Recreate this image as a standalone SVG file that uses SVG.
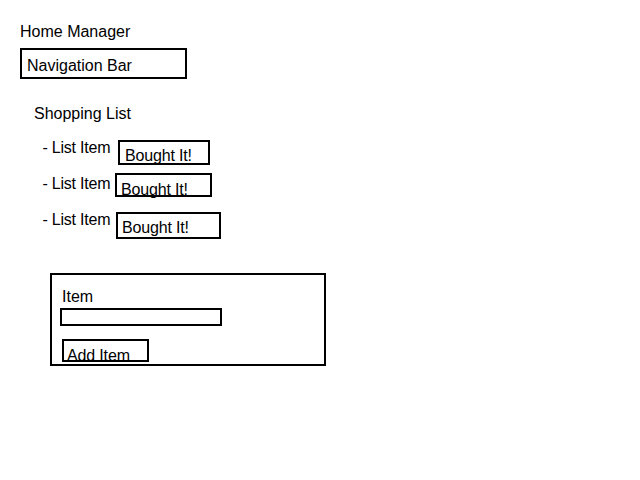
<svg xmlns="http://www.w3.org/2000/svg" width="640" height="480" viewBox="0 0 640 480">
<style>
text{font-family:"Liberation Sans",Arial,sans-serif;font-size:16px;fill:#000}
rect{fill:none;stroke:#000;stroke-width:2}
</style>
<rect x="0" y="0" width="640" height="480" style="fill:#fff;stroke:none"/>
<g id="title"><text x="20" y="37">Home Manager</text></g>
<g id="navbar"><rect x="21" y="49" width="165" height="29"/><text x="27" y="71">Navigation Bar</text></g>
<g id="shopping-list"><text x="34" y="119">Shopping List</text></g>
<g id="item1"><text x="42.5" y="153" textLength="68">- List Item</text><rect x="119" y="141" width="90" height="23"/><text x="125" y="161" textLength="67">Bought It!</text></g>
<g id="item2"><text x="42.5" y="189" textLength="68">- List Item</text><rect x="116" y="174" width="95" height="22"/><text x="121" y="195" textLength="67">Bought It!</text></g>
<g id="item3"><text x="42.5" y="225" textLength="68">- List Item</text><rect x="117" y="213" width="103" height="25"/><text x="122" y="233" textLength="67">Bought It!</text></g>
<g id="form"><rect x="51" y="274" width="274" height="91"/><text x="62" y="302">Item</text>
<rect x="61" y="309" width="160" height="16"/>
<rect x="63" y="340" width="85" height="21"/><text x="67" y="361" textLength="63">Add Item</text></g>
<g id="connectors"/>
</svg>
